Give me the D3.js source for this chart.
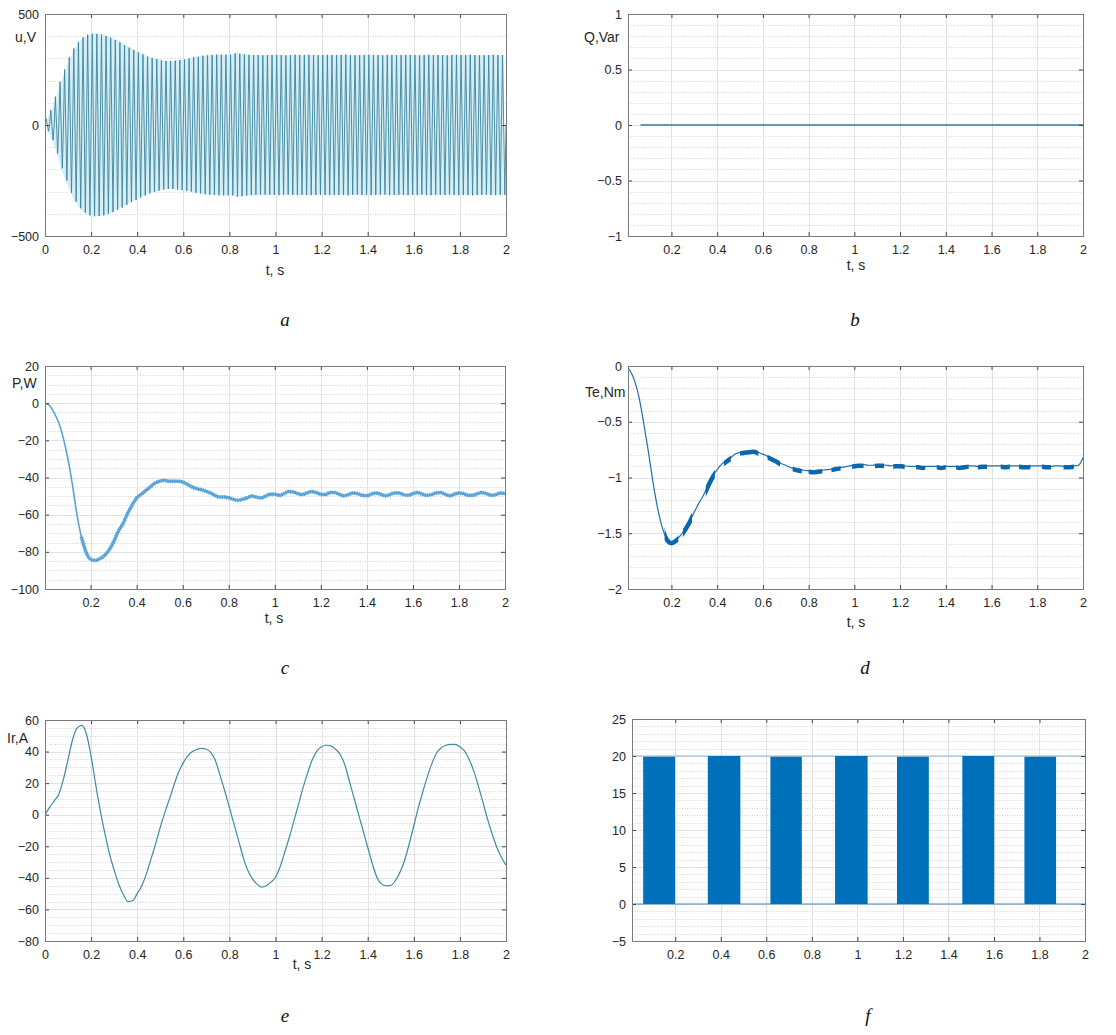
<!DOCTYPE html>
<html>
<head>
<meta charset="utf-8">
<script src="https://cdn.jsdelivr.net/npm/d3@7"></script>
<style>
  body { margin: 0; background: #fff; }
  svg text { font-family: "Liberation Sans", Arial, sans-serif; fill: #262626; }
  .tick text { font-size: 12.5px; }
  .axlabel { font-size: 14px; }
  .sub { font-family: "Liberation Serif", "Times New Roman", serif; font-style: italic; font-size: 19px; fill: #111; }
</style>
</head>
<body>
<svg id="fig" width="1116" height="1035"></svg>
<script>
// ---- data ----
// a: per-cycle amplitude of u (50 Hz, 100 cycles over 2 s)
const uFreq = 50;
const uAmp = [
  28, 68, 128, 195, 250, 305, 345, 375, 395, 407,
  411, 410, 407, 401, 393, 383, 372, 360, 348, 338,
  327, 318, 308, 302, 296, 291, 288, 288, 290, 293,
  296, 300, 305, 308, 312, 314, 315, 317, 317, 317,
  317, 323, 321, 318, 316, 315, 315, 314, 315, 315,
  316, 315, 314, 315, 316, 315, 315, 316, 315, 314,
  315, 316, 315, 315, 316, 317, 315, 314, 315, 315,
  316, 315, 315, 314, 316, 315, 315, 315, 316, 315,
  315, 314, 315, 316, 315, 315, 315, 314, 315, 316,
  315, 315, 317, 315, 315, 314, 315, 316, 315, 315
];

// b: reactive power
const qTime = [0.065, 2];
const qVal = [0, 0];

// c, d, e: sampled every 0.02 s from 0 to 2 s
const tStep = 0.02;
const pVal = [
  0, -1, -4.8, -10, -18, -29, -43, -59.5, -72, -80,
  -84, -84.6, -83.7, -82, -79, -74.7, -69, -65, -59.5, -55,
  -51, -49, -47, -45, -43, -42, -41.5, -42, -42, -42,
  -42.4, -43.7, -45, -46, -46.5, -47.3, -48.3, -49.6, -50.5, -50.5,
  -50.9, -51.7, -52.3, -51.7, -50.9, -50, -50.5, -51, -50, -49,
  -49,
  -49.6, -48.7, -47.6, -47.8, -48.7, -49.2, -48.3, -47.6, -48.1, -49,
  -49.2, -48.1, -48.1, -49, -49.8, -49.2, -48.3, -48.7, -49.6, -49.8,
  -48.9, -48.3, -49, -49.8, -49.2, -48.3, -48.3, -49.2, -49.6, -48.7,
  -48.1, -48.9, -49.6, -49.2, -48.3, -48.1, -49, -49.8, -49, -48.3,
  -48.7, -49.6, -49.6, -48.7, -48.1, -48.7, -49.6, -49.2, -48.3, -48.7
];

const teVal = [
  0, -0.045, -0.14, -0.30, -0.53, -0.78, -1.05, -1.28, -1.45, -1.55,
  -1.58, -1.56, -1.52, -1.46, -1.39, -1.31, -1.23, -1.16, -1.07, -0.99,
  -0.93, -0.88, -0.85, -0.82, -0.79, -0.775, -0.77, -0.765, -0.76, -0.775,
  -0.79, -0.81, -0.83, -0.85, -0.875, -0.89, -0.91, -0.92, -0.93, -0.935,
  -0.94, -0.945, -0.94, -0.935, -0.93, -0.925, -0.915, -0.91, -0.905, -0.895,
  -0.89,
  -0.885, -0.885, -0.89, -0.89, -0.885, -0.885, -0.89, -0.895, -0.89, -0.89,
  -0.895, -0.9, -0.9, -0.9, -0.905, -0.9, -0.9, -0.9, -0.905, -0.9,
  -0.9, -0.9, -0.905, -0.9, -0.895, -0.895, -0.9, -0.895, -0.895, -0.895,
  -0.895, -0.895, -0.9, -0.895, -0.895, -0.895, -0.9, -0.9, -0.895, -0.895,
  -0.895, -0.9, -0.9, -0.895, -0.895, -0.9, -0.9, -0.895, -0.89, -0.82
];
// thickened (ripple) stretches of Te
const teBlobStart = [0.17, 0.25, 0.35, 0.43, 0.50, 0.62, 0.73, 0.80, 0.90, 0.99, 1.09, 1.17, 1.27, 1.36, 1.445, 1.54, 1.64, 1.72, 1.82, 1.915];
const teBlobEnd   = [0.23, 0.29, 0.39, 0.46, 0.58, 0.675, 0.77, 0.86, 0.94, 1.04, 1.13, 1.22, 1.31, 1.40, 1.50, 1.58, 1.68, 1.77, 1.86, 1.96];

const irVal = [
  0, 4.6, 8.8, 13, 22.5, 35, 47.8, 55, 56.6, 51,
  37, 19, 2.5, -12, -25, -35, -44, -50.5, -55, -54.5,
  -50, -45, -37.5, -28, -18.5, -8, 1.5, 10, 19, 27,
  33, 37.5, 40, 41.5, 42, 41.5, 39.4, 34, 24.6, 15,
  4.6, -6, -16.4, -27, -35.4, -40.6, -44, -45.9, -45, -42.7,
  -39.6, -33, -23.8, -14.3, -3.8, 6.7, 17.3, 26.7, 35, 40.4,
  43, 44, 43.6, 41.5, 38.3, 32, 21.5, 11, 0.4, -10,
  -20.6, -31, -39.6, -43.8, -45, -44.8, -41.7, -36.4, -29, -18.5,
  -7, 4.6, 15, 24.6, 33, 39.4, 42.5, 44, 44.6, 44.6,
  43, 40.4, 35, 27.8, 18.3, 7.8, -2.8, -12.2, -20.6, -27,
  -32
];

// f: switching blocks between 0 and 20
const fBlockStart = [0.059, 0.343, 0.618, 0.902, 1.174, 1.461, 1.734];
const fBlockEnd   = [0.199, 0.486, 0.756, 1.045, 1.314, 1.601, 1.873];
const fBlockTop   = [19.9, 20, 19.9, 20, 19.9, 20, 19.9];

const xTicksFull = [0, 0.2, 0.4, 0.6, 0.8, 1, 1.2, 1.4, 1.6, 1.8, 2];
const xTicksNoZero = [0.2, 0.4, 0.6, 0.8, 1, 1.2, 1.4, 1.6, 1.8, 2];

const svg = d3.select("#fig");
let clipId = 0;

function panel(o) {
  let g = svg.append("g").attr("transform", "translate(" + o.left + "," + o.top + ")");
  let w = o.right - o.left, h = o.bottom - o.top;
  let x = d3.scaleLinear().domain(o.xDomain).range([0, w]);
  let y = d3.scaleLinear().domain(o.yDomain).range([h, 0]);

  // minor grid (dotted)
  let lo = Math.min(...o.yDomain), hi = Math.max(...o.yDomain);
  let minor = d3.range(lo, hi + o.minor / 2, o.minor)
    .filter(v => !o.yTicks.some(t => Math.abs(t - v) < o.minor / 10));
  g.append("g").selectAll("line").data(minor).enter().append("line")
    .attr("x1", 0).attr("x2", w)
    .attr("y1", d => Math.round(y(d)) + 0.5).attr("y2", d => Math.round(y(d)) + 0.5)
    .attr("stroke", "#d4d4d4").attr("stroke-dasharray", "1,1.5");
  // major grid
  g.append("g").selectAll("line").data(o.yTicks).enter().append("line")
    .attr("x1", 0).attr("x2", w)
    .attr("y1", d => Math.round(y(d)) + 0.5).attr("y2", d => Math.round(y(d)) + 0.5)
    .attr("stroke", "#e2e2e2");
  g.append("g").selectAll("line").data(o.xTicks).enter().append("line")
    .attr("y1", 0).attr("y2", h)
    .attr("x1", d => Math.round(x(d)) + 0.5).attr("x2", d => Math.round(x(d)) + 0.5)
    .attr("stroke", "#e2e2e2");

  let plot = g.append("g");

  // axes with inward ticks on all four sides
  g.append("g").attr("transform", "translate(0," + h + ")")
    .call(d3.axisBottom(x).tickValues(o.xTicks).tickSize(-4).tickPadding(9).tickFormat(d3.format("")));
  g.append("g")
    .call(d3.axisLeft(y).tickValues(o.yTicks).tickSize(-4).tickPadding(6).tickFormat(d3.format("")));
  g.append("g").call(d3.axisTop(x).tickValues(o.xTicks).tickSize(-4).tickFormat(""));
  g.append("g").attr("transform", "translate(" + w + ",0)")
    .call(d3.axisRight(y).tickValues(o.yTicks).tickSize(-4).tickFormat(""));
  g.selectAll(".domain").remove();
  g.selectAll(".tick line").attr("stroke", "#444");
  g.selectAll(".tick text").attr("fill", "#262626");
  g.append("rect").attr("x", 0.5).attr("y", 0.5).attr("width", w).attr("height", h)
    .attr("fill", "none").attr("stroke", "#7a7a7a");

  if (o.xLabel) {
    svg.append("text").attr("class", "axlabel").attr("text-anchor", "middle")
      .attr("x", o.xLabel[0]).attr("y", o.xLabel[1]).text("t, s");
  }
  if (o.yLabel) {
    svg.append("text").attr("class", "axlabel")
      .attr("x", o.yLabel[1]).attr("y", o.yLabel[2]).text(o.yLabel[0]);
  }
  svg.append("text").attr("class", "sub").attr("text-anchor", "middle")
    .attr("x", o.sub[1]).attr("y", o.sub[2]).text(o.sub[0]);

  let id = "clip" + (clipId++);
  g.append("clipPath").attr("id", id).append("rect").attr("width", w + 1).attr("height", h);
  plot.attr("clip-path", "url(#" + id + ")");
  return { plot, x, y, w, h, g };
}

const tSamples = pVal.map((d, i) => i * tStep);

// ---------- a ----------
(function () {
  let p = panel({
    left: 45, right: 506, top: 14, bottom: 236,
    xDomain: [0, 2], yDomain: [-500, 500],
    xTicks: xTicksFull, yTicks: [-500, 0, 500], minor: 100,
    xLabel: [275, 275], yLabel: ["u,V", 15, 42], sub: ["a", 285, 326]
  });
  let pts = [];
  uAmp.forEach((a, k) => {
    let t0 = k / uFreq, q = 1 / (4 * uFreq);
    pts.push([t0, 0], [t0 + q, a], [t0 + 2 * q, 0], [t0 + 3 * q, -a]);
  });
  pts.push([uAmp.length / uFreq, 0]);
  let peaks = uAmp.map((a, k) => [(k + 0.5) / uFreq, a]);
  p.plot.append("path").datum(peaks)
    .attr("fill", "#d6eef4")
    .attr("d", d3.area().x(d => p.x(d[0])).y0(d => p.y(-d[1])).y1(d => p.y(d[1])).curve(d3.curveMonotoneX));
  p.plot.append("path").datum(pts)
    .attr("fill", "none").attr("stroke", "#3a84a0").attr("stroke-width", 0.9)
    .attr("d", d3.line().x(d => p.x(d[0])).y(d => p.y(d[1])));
})();

// ---------- b ----------
(function () {
  let p = panel({
    left: 628, right: 1083, top: 14, bottom: 236,
    xDomain: [0.01, 2], yDomain: [-1, 1],
    xTicks: xTicksNoZero, yTicks: [-1, -0.5, 0, 0.5, 1], minor: 0.1,
    xLabel: [856, 270], yLabel: ["Q,Var", 584, 42], sub: ["b", 855, 326]
  });
  p.plot.append("path").datum(qTime.map((t, i) => [t, qVal[i]]))
    .attr("fill", "none").attr("stroke", "#2f8199").attr("stroke-width", 1.3)
    .attr("d", d3.line().x(d => p.x(d[0])).y(d => p.y(d[1])));
})();

// ---------- c ----------
(function () {
  let p = panel({
    left: 45, right: 505, top: 366, bottom: 589,
    xDomain: [0.002, 2], yDomain: [-100, 20],
    xTicks: xTicksNoZero, yTicks: [-100, -80, -60, -40, -20, 0, 20], minor: 5,
    xLabel: [274, 623], yLabel: ["P,W", 12, 388], sub: ["c", 285, 674]
  });
  let data = tSamples.map((t, i) => [t, pVal[i]]);
  let line = d3.line().x(d => p.x(d[0])).y(d => p.y(d[1])).curve(d3.curveMonotoneX);
  p.plot.append("path").datum(data)
    .attr("fill", "none").attr("stroke", "#5aa3d8").attr("stroke-width", 1.6).attr("d", line);
  // ripple band after the first dip
  let rip = data.filter(d => d[0] >= 0.16);
  p.plot.append("path").datum(rip)
    .attr("fill", "none").attr("stroke", "#6db0e0").attr("stroke-width", 3)
    .attr("d", line);
  p.plot.append("path").datum(rip)
    .attr("fill", "none").attr("stroke", "#3f92cf").attr("stroke-width", 4)
    .attr("stroke-dasharray", "1,1.3").attr("opacity", 0.75).attr("d", line);
})();

// ---------- d ----------
(function () {
  let p = panel({
    left: 628, right: 1083, top: 366, bottom: 589,
    xDomain: [0.01, 2], yDomain: [-2, 0],
    xTicks: xTicksNoZero, yTicks: [-2, -1.5, -1, -0.5, 0], minor: 0.1,
    xLabel: [856, 627], yLabel: ["Te,Nm", 585, 397], sub: ["d", 865, 674]
  });
  let data = tSamples.map((t, i) => [t, teVal[i]]);
  let line = d3.line().x(d => p.x(d[0])).y(d => p.y(d[1])).curve(d3.curveMonotoneX);
  p.plot.append("path").datum(data)
    .attr("fill", "none").attr("stroke", "#1f6fae").attr("stroke-width", 1.2).attr("d", line);
  let id = "clip" + (clipId++);
  let cp = p.g.append("clipPath").attr("id", id);
  cp.selectAll("rect").data(teBlobStart).enter().append("rect")
    .attr("x", d => p.x(d)).attr("width", (d, i) => p.x(teBlobEnd[i]) - p.x(d))
    .attr("y", 0).attr("height", p.h);
  p.plot.append("g").attr("clip-path", "url(#" + id + ")")
    .append("path").datum(data)
    .attr("transform", "translate(0,1)")
    .attr("fill", "none").attr("stroke", "#0a66ad").attr("stroke-width", 4.5).attr("d", line);
})();

// ---------- e ----------
(function () {
  let p = panel({
    left: 45, right: 506, top: 720, bottom: 941,
    xDomain: [0, 2], yDomain: [-80, 60],
    xTicks: xTicksFull, yTicks: [-80, -60, -40, -20, 0, 20, 40, 60], minor: 5,
    xLabel: [302, 969], yLabel: ["Ir,A", 7, 743], sub: ["e", 285, 1022]
  });
  let data = tSamples.map((t, i) => [t, irVal[i]]);
  p.plot.append("path").datum(data)
    .attr("fill", "none").attr("stroke", "#3d8ba2").attr("stroke-width", 1.2)
    .attr("d", d3.line().x(d => p.x(d[0])).y(d => p.y(d[1])).curve(d3.curveMonotoneX));
})();

// ---------- f ----------
(function () {
  let p = panel({
    left: 632, right: 1085, top: 719, bottom: 941,
    xDomain: [0.01, 2], yDomain: [-5, 25],
    xTicks: xTicksNoZero, yTicks: [-5, 0, 5, 10, 15, 20, 25], minor: 1,
    xLabel: null, yLabel: null, sub: ["f", 868, 1022]
  });
  p.plot.append("line").attr("x1", 0).attr("x2", p.w)
    .attr("y1", p.y(20)).attr("y2", p.y(20)).attr("stroke", "#8fb4cf").attr("stroke-width", 1);
  p.plot.append("line").attr("x1", 0).attr("x2", p.w)
    .attr("y1", p.y(0)).attr("y2", p.y(0)).attr("stroke", "#3f86bd").attr("stroke-width", 1);
  p.plot.selectAll("rect.blk").data(fBlockStart).enter().append("rect")
    .attr("class", "blk")
    .attr("x", d => p.x(d)).attr("width", (d, i) => p.x(fBlockEnd[i]) - p.x(d))
    .attr("y", (d, i) => p.y(fBlockTop[i])).attr("height", (d, i) => p.y(0) - p.y(fBlockTop[i]))
    .attr("fill", "#0070ba");
})();
</script>
</body>
</html>
